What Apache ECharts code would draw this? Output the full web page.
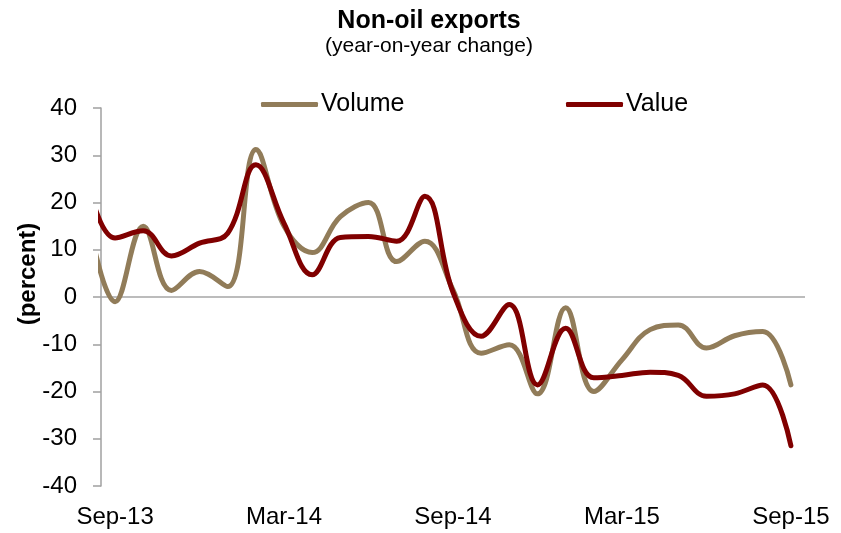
<!DOCTYPE html>
<html>
<head>
<meta charset="utf-8">
<script src="https://cdn.jsdelivr.net/npm/echarts@6/dist/echarts.min.js"></script>
<style>
html,body{margin:0;padding:0;background:#fff;}
#chart{width:841px;height:533px;}
</style>
</head>
<body>
<div id="chart"></div>
<script>
// Months: Aug-13 (partly clipped at left edge) through Sep-15
const months = ['Aug-13','Sep-13','Oct-13','Nov-13','Dec-13','Jan-14','Feb-14','Mar-14','Apr-14','May-14','Jun-14','Jul-14','Aug-14','Sep-14','Oct-14','Nov-14','Dec-14','Jan-15','Feb-15','Mar-15','Apr-15','May-15','Jun-15','Jul-15','Aug-15','Sep-15'];
const volume = [18, -1, 15, 1.4, 5.4, 2.2, 31.2, 15, 9.4, 17, 20, 7.5, 11.8, 1.5, -11.9, -10.1, -20.5, -2.3, -20, -13.3, -6.9, -5.9, -10.8, -8.2, -7.3, -18.6];
const value  = [25, 12.5, 14, 8.7, 11.4, 13.5, 28, 15.6, 4.7, 12.6, 12.8, 11.8, 21.3, 1, -8.3, -1.6, -18.6, -6.6, -17.1, -16.6, -15.9, -16.6, -21, -20.5, -18.6, -31.5];
const tickLabels = ['Sep-13','Mar-14','Sep-14','Mar-15','Sep-15'];
const yTicks = [-40, -30, -20, -10, 0, 10, 20, 30, 40];

const toPairs = arr => arr.map((v, i) => [i - 1, v]);
const tickPositions = tickLabels.map(l => months.indexOf(l) - 1);

const FONT = '"Liberation Sans", Arial, sans-serif';
const chart = echarts.init(document.getElementById('chart'), null, {renderer: 'canvas'});
chart.setOption({
  animation: false,
  backgroundColor: '#ffffff',
  title: {
    text: 'Non-oil exports',
    subtext: '(year-on-year change)',
    left: 424,
    textAlign: 'center',
    top: 4,
    itemGap: 2,
    textStyle: {fontFamily: FONT, fontSize: 25, fontWeight: 'bold', color: '#000'},
    subtextStyle: {fontFamily: FONT, fontSize: 21, color: '#000'}
  },
  legend: [
    {
      data: ['Volume'], left: 256, top: 87, itemWidth: 57, itemHeight: 5, icon: 'roundRect', itemGap: 0,
      textStyle: {fontFamily: FONT, fontSize: 25, color: '#000', padding: [0, 0, 0, -2]}
    },
    {
      data: ['Value'], left: 561, top: 87, itemWidth: 57, itemHeight: 5, icon: 'roundRect', itemGap: 0,
      textStyle: {fontFamily: FONT, fontSize: 25, color: '#000', padding: [0, 0, 0, -2]}
    }
  ],
  grid: {left: 101, right: 36, top: 108, bottom: 47},
  xAxis: {
    type: 'value',
    min: -0.5,
    max: 24.5,
    axisLine: {show: false},
    axisTick: {show: false},
    splitLine: {show: false},
    axisLabel: {
      customValues: tickPositions,
      formatter: v => months[Math.round(v) + 1],
      fontFamily: FONT, fontSize: 24, color: '#000', margin: 19
    }
  },
  yAxis: {
    type: 'value',
    min: -40, max: 40, interval: 10,
    axisLine: {show: true, onZero: false, lineStyle: {color: '#a0a0a0', width: 1.5}},
    axisTick: {show: true, length: 8, lineStyle: {color: '#a0a0a0', width: 1.5}},
    splitLine: {show: false},
    axisLabel: {fontFamily: FONT, fontSize: 24, color: '#000', margin: 24,
      customValues: yTicks}
  },
  graphic: [{
    type: 'text',
    x: 28, y: 274,
    rotation: Math.PI / 2,
    style: {text: '(percent)', font: 'bold 24px ' + FONT, fill: '#000', align: 'center', verticalAlign: 'middle'}
  }],
  series: [
    {
      name: 'Volume', type: 'line', data: toPairs(volume), smooth: 0.4, showSymbol: false, symbol: 'none',
      lineStyle: {color: '#917c59', width: 5, cap: 'round'}, itemStyle: {color: '#917c59'},
      clip: true, z: 2,
      markLine: {
        silent: true, symbol: 'none', label: {show: false},
        lineStyle: {color: '#a6a6a6', width: 1.5, type: 'solid'},
        data: [{yAxis: 0}], z: 1
      }
    },
    {
      name: 'Value', type: 'line', data: toPairs(value), smooth: 0.4, showSymbol: false, symbol: 'none',
      lineStyle: {color: '#800000', width: 5, cap: 'round'}, itemStyle: {color: '#800000'},
      clip: true, z: 3
    }
  ]
});
</script>
</body>
</html>
